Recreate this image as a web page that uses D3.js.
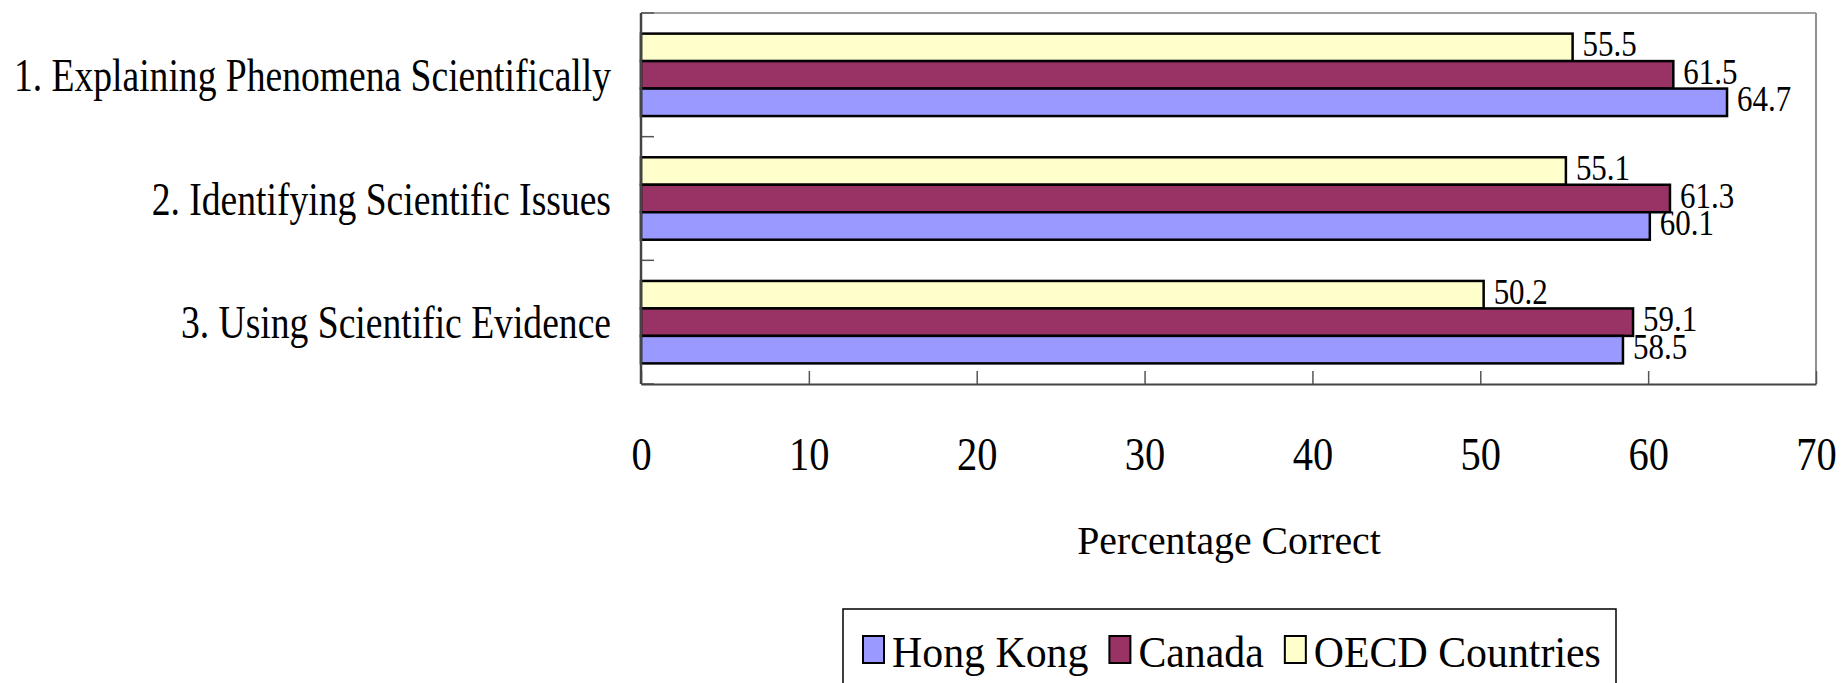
<!DOCTYPE html>
<html>
<head>
<meta charset="utf-8">
<script src="https://cdn.jsdelivr.net/npm/d3@7"></script>
<style>
  html, body { margin: 0; padding: 0; background: #fff; }
  svg { display: block; }
  text { font-family: "Liberation Serif", "Times New Roman", serif; fill: #000; }
</style>
</head>
<body>
<svg id="chart" width="1847" height="683"></svg>
<script>
// Competency categories, top to bottom
const categories = [
  "1. Explaining Phenomena Scientifically",
  "2. Identifying Scientific Issues",
  "3. Using Scientific Evidence"
];
// Series in legend order
const seriesNames = ["Hong Kong", "Canada", "OECD Countries"];
const hongKong = [64.7, 60.1, 58.5];
const canada   = [61.5, 61.3, 59.1];
const oecd     = [55.5, 55.1, 50.2];
const xTicks = [0, 10, 20, 30, 40, 50, 60, 70];
const xTitle = "Percentage Correct";

const seriesValues = { "Hong Kong": hongKong, "Canada": canada, "OECD Countries": oecd };
const colors = { "Hong Kong": "#9999FF", "Canada": "#993366", "OECD Countries": "#FFFFCC" };
// Within each category the bars run from OECD (top) down to Hong Kong
const barOrder = ["OECD Countries", "Canada", "Hong Kong"];

const svg = d3.select("#chart");
const plot = { left: 641, right: 1816, top: 13, bottom: 384 };

const x = d3.scaleLinear().domain([0, 70]).range([plot.left, plot.right]);
const y = d3.scaleBand().domain(categories)
  .range([plot.top, plot.bottom]).paddingInner(1/3).paddingOuter(1/6);
const ySub = d3.scaleBand().domain(barOrder).range([0, y.bandwidth()]);

// Narrow serif lettering: place text at (tx, ty) and squeeze it horizontally
function place(sel, tx, ty, sx) {
  return sel.attr("x", 0).attr("y", 0)
    .attr("transform", (d, i) => {
      const px = typeof tx === "function" ? tx(d, i) : tx;
      const py = typeof ty === "function" ? ty(d, i) : ty;
      return `translate(${px},${py}) scale(${sx},1)`;
    });
}

// Plot frame: light top/right edges, darker axes on left/bottom
svg.append("line").attr("x1", plot.left).attr("x2", plot.right)
  .attr("y1", plot.top).attr("y2", plot.top).attr("stroke", "#a0a0a0").attr("stroke-width", 2);
svg.append("line").attr("x1", plot.right).attr("x2", plot.right)
  .attr("y1", plot.top).attr("y2", plot.bottom).attr("stroke", "#909090").attr("stroke-width", 2);

// Bars
const groups = svg.append("g").selectAll("g").data(categories).join("g")
  .attr("transform", d => `translate(0,${y(d)})`);
groups.selectAll("rect")
  .data((c, i) => barOrder.map(s => ({ s, v: seriesValues[s][i] })))
  .join("rect")
  .attr("x", x(0))
  .attr("y", d => ySub(d.s))
  .attr("width", d => x(d.v) - x(0))
  .attr("height", ySub.bandwidth())
  .attr("fill", d => colors[d.s])
  .attr("stroke", "#000")
  .attr("stroke-width", 2.5);

// Value labels
place(groups.selectAll("text.val")
  .data((c, i) => barOrder.map(s => ({ s, v: seriesValues[s][i] })))
  .join("text")
  .attr("class", "val")
  .attr("font-size", 36)
  .text(d => d.v.toFixed(1)),
  d => x(d.v) + 10,
  d => ySub(d.s) + ySub.bandwidth() / 2 + 9,
  0.86);

// Category boundaries on the value axis (ticks pointing inward)
const yEdges = [plot.top, ...categories.slice(1).map(c => y(c) - y.step() * y.paddingInner() / 2), plot.bottom];
svg.append("g").selectAll("line").data(yEdges).join("line")
  .attr("x1", plot.left).attr("x2", plot.left + 13)
  .attr("y1", d => d).attr("y2", d => d)
  .attr("stroke", "#555").attr("stroke-width", 1.5);

// Bottom axis with inward ticks
const xAxis = d3.axisBottom(x).tickValues(xTicks).tickSizeInner(-13).tickSizeOuter(0).tickPadding(0);
const gx = svg.append("g").attr("transform", `translate(0,${plot.bottom})`).call(xAxis);
gx.select(".domain").attr("stroke", "#444").attr("stroke-width", 2);
gx.selectAll(".tick line").attr("stroke", "#555").attr("stroke-width", 1.5);
gx.selectAll(".tick text")
  .attr("dy", null)
  .attr("font-size", 46).attr("font-family", "Liberation Serif, Times New Roman, serif")
  .attr("fill", "#000");
place(gx.selectAll(".tick text"), 0, 86, 0.88);

// Left axis line
svg.append("line").attr("x1", plot.left).attr("x2", plot.left)
  .attr("y1", plot.top).attr("y2", plot.bottom).attr("stroke", "#444").attr("stroke-width", 2.5);

// Category labels
place(svg.append("g").selectAll("text").data(categories).join("text")
  .attr("text-anchor", "end")
  .attr("font-size", 47)
  .text(d => d),
  611,
  d => y(d) + y.bandwidth() / 2 + 16,
  0.8);

// Axis title
place(svg.append("text")
  .attr("text-anchor", "middle")
  .attr("font-size", 41)
  .text(xTitle),
  1229, 554, 0.97);

// Legend
const legend = svg.append("g");
legend.append("rect")
  .attr("x", 843).attr("y", 609).attr("width", 773).attr("height", 100)
  .attr("fill", "#fff").attr("stroke", "#000").attr("stroke-width", 1.5);
const legendSx = 0.93;
let lx = 863;
seriesNames.forEach(s => {
  legend.append("rect")
    .attr("x", lx).attr("y", 636).attr("width", 21).attr("height", 27)
    .attr("fill", colors[s]).attr("stroke", "#000").attr("stroke-width", 2);
  const t = place(legend.append("text").attr("font-size", 45).text(s), lx + 29, 667, legendSx);
  lx += 29 + t.node().getComputedTextLength() * legendSx + 21;
});
</script>
</body>
</html>
